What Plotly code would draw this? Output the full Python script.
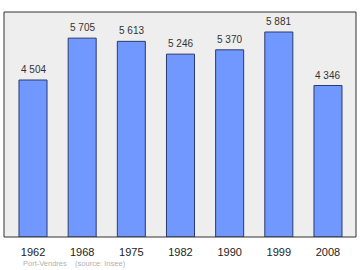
import plotly.graph_objects as go

years = ["1962", "1968", "1975", "1982", "1990", "1999", "2008"]
population = [4504, 5705, 5613, 5246, 5370, 5881, 4346]
labels = ["4 504", "5 705", "5 613", "5 246", "5 370", "5 881", "4 346"]
source_text = "Port-Vendres    (source: Insee)"

fig = go.Figure()
fig.add_trace(go.Bar(
    x=list(range(len(years))),
    y=population,
    width=0.57,
    marker=dict(color="#7098ff", line=dict(color="#2b3a6e", width=1)),
    hoverinfo="skip",
))

for i, (v, t) in enumerate(zip(population, labels)):
    fig.add_annotation(x=i, y=v, text=t, showarrow=False, yanchor="bottom",
                       yshift=3, font=dict(family="Liberation Sans, Arial", size=10, color="#333333"))

fig.add_annotation(xref="paper", yref="paper", x=(21 - 4) / 352, y=-(263 - 237) / 225,
                   xanchor="left", yanchor="middle", text=source_text, showarrow=False,
                   font=dict(family="Liberation Sans, Arial", size=7.5, color="#b0b0b0"))

fig.add_shape(type="rect", xref="paper", yref="paper", x0=0, y0=0, x1=1, y1=1,
              line=dict(color="#333333", width=1))

fig.update_layout(
    width=360, height=270,
    margin=dict(l=4, r=4, t=12, b=33),
    paper_bgcolor="white",
    plot_bgcolor="#eeeeee",
    showlegend=False,
    xaxis=dict(range=[-0.59, 6.57], tickvals=list(range(len(years))), ticktext=years,
               showgrid=False, zeroline=False, showline=False, ticks="",
               ticklabelstandoff=7,
               tickfont=dict(family="Liberation Sans, Arial", size=11, color="#222222")),
    yaxis=dict(range=[0, 6455], showgrid=False, zeroline=False, showticklabels=False,
               showline=False, ticks=""),
)

fig.write_html("out.html")
